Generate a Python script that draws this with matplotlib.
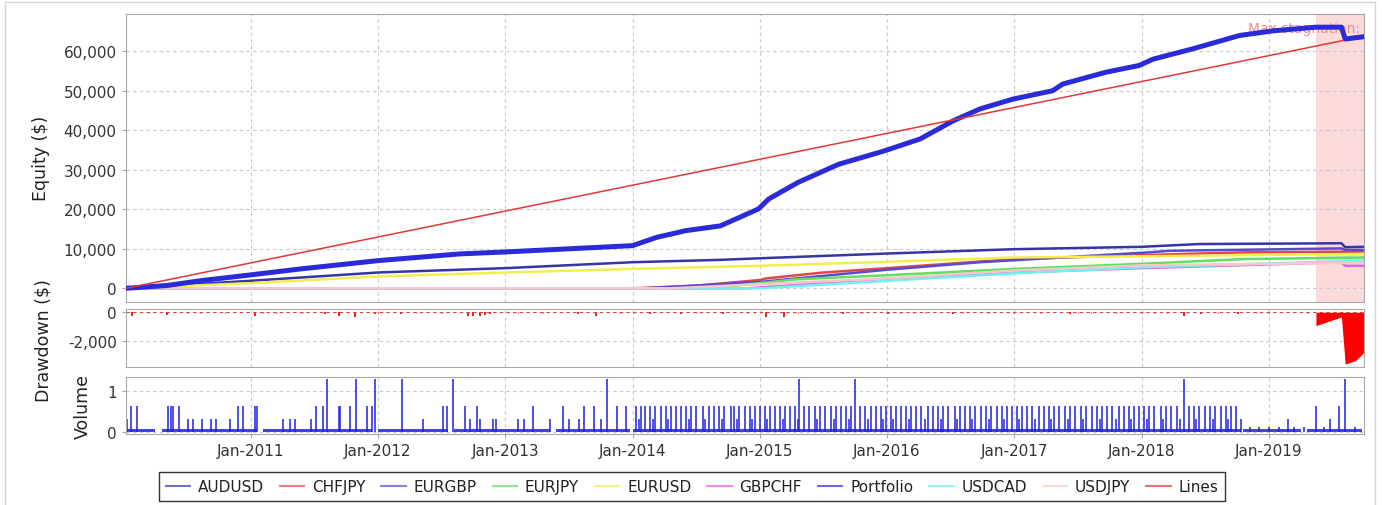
import numpy as np
import matplotlib
matplotlib.use("Agg")
import matplotlib.pyplot as plt
from matplotlib.patches import Rectangle

# --- data (x in decimal years) ---
years = [2011, 2012, 2013, 2014, 2015, 2016, 2017, 2018, 2019]
year_labels = ["Jan-%d" % y for y in years]

portfolio_t = [2010.02, 2010.34, 2010.60, 2011.00, 2011.39, 2012.00, 2012.64, 2013.00, 2014.00,
               2014.19, 2014.42, 2014.69, 2014.99, 2015.07, 2015.30, 2015.62, 2015.97, 2016.26,
               2016.52, 2016.73, 2016.99, 2017.30, 2017.38, 2017.72, 2017.98, 2018.09, 2018.40,
               2018.77, 2019.04, 2019.37, 2019.57, 2019.60, 2019.75]
portfolio_v = [0, 700, 1900, 3400, 4900, 7000, 8700, 9200, 10800,
               12900, 14600, 15800, 20100, 22600, 26800, 31400, 34700, 37800,
               42400, 45400, 47900, 50000, 51700, 54700, 56400, 58000, 60600,
               64000, 65200, 66100, 66100, 63100, 63700]

audusd_t = [2010.02, 2011.0, 2012.0, 2013.0, 2014.0, 2014.69, 2015.0, 2016.0, 2017.0, 2018.0, 2018.45, 2019.57, 2019.60, 2019.75]
audusd_v = [0, 1900, 4000, 5100, 6600, 7200, 7600, 8800, 9900, 10500, 11200, 11400, 10400, 10500]

eurusd_t = [2010.02, 2011.0, 2012.0, 2013.0, 2014.0, 2015.0, 2016.0, 2017.0, 2018.0, 2019.75]
eurusd_v = [0, 1300, 3000, 4000, 4900, 5700, 6700, 7800, 8100, 8700]

chfjpy_t = [2010.02, 2014.0, 2014.5, 2015.0, 2015.05, 2015.5, 2016.0, 2017.0, 2018.0, 2018.8, 2019.75]
chfjpy_v = [0, 0, 660, 2100, 2500, 4000, 5100, 7400, 8400, 9100, 9300]

eurgbp_t = [2010.02, 2014.1, 2015.0, 2016.0, 2016.73, 2018.06, 2018.22, 2019.57, 2019.60, 2019.75]
eurgbp_v = [0, 0, 1600, 4700, 6600, 9100, 9500, 10100, 9700, 9700]

eurjpy_t = [2010.02, 2014.5, 2014.8, 2015.3, 2016.0, 2017.0, 2018.0, 2018.8, 2019.75]
eurjpy_v = [0, 0, 660, 2300, 3300, 4900, 6200, 7400, 7800]

gbpchf_t = [2010.02, 2014.9, 2016.0, 2017.0, 2018.0, 2019.57, 2019.60, 2019.75]
gbpchf_v = [0, 0, 2400, 4000, 5100, 6600, 5700, 5700]

usdcad_t = [2010.02, 2015.0, 2016.0, 2017.0, 2018.0, 2019.75]
usdcad_v = [0, 0, 1900, 3800, 5300, 7000]

usdjpy_t = [2010.02, 2014.3, 2016.0, 2017.0, 2018.0, 2019.75]
usdjpy_v = [0, 0, 2500, 4500, 5800, 6500]

lines_t = [2010.02, 2019.58]
lines_v = [0, 62700]

stagnation_start = 2019.37

# drawdown: small dips + final drawdown
dip_t = [2010.07, 2010.34, 2011.03, 2011.58, 2011.69, 2011.82, 2011.98, 2012.18, 2012.71, 2012.75,
         2012.80, 2012.84, 2012.88, 2013.57, 2013.71, 2014.14, 2014.38, 2014.71, 2015.05, 2015.19,
         2015.65, 2016.01, 2016.52, 2017.44, 2018.33, 2018.47, 2018.76, 2019.20]
dip_v = [-250, -200, -250, -150, -250, -300, -150, -150, -250, -250,
         -250, -200, -150, -150, -250, -100, -150, -100, -350, -300,
         -150, -100, -100, -120, -250, -150, -150, -80]
tiny_dip_t = [2010.2, 2010.5, 2010.6, 2010.8, 2011.1, 2011.2, 2011.4, 2012.0, 2012.3, 2012.5,
              2013.1, 2013.3, 2013.9, 2014.0, 2014.5, 2014.9, 2015.3, 2015.4, 2015.5, 2015.8,
              2016.1, 2016.2, 2016.3, 2016.6, 2016.8, 2017.0, 2017.2, 2017.5, 2017.6, 2017.8,
              2018.0, 2018.1, 2018.2, 2018.6, 2018.9, 2019.0, 2019.3]
final_dd_t = [2019.37, 2019.57, 2019.60, 2019.68, 2019.75]
final_dd_v = [-940, -330, -3640, -3400, -2800]

# volume (lots): one list of dates per trade size
vol_levels = [1.3, 0.65, 0.33, 0.12]
vol_tall = [2011.60, 2011.83, 2011.98, 2012.19, 2012.59, 2013.80, 2015.31, 2015.75, 2018.33, 2019.60]
vol_mid = [2010.06, 2010.11, 2010.35, 2010.37, 2010.39, 2010.44, 2010.90, 2010.94,
           2011.03, 2011.05, 2011.51, 2011.57, 2011.69, 2011.70, 2011.78, 2011.91, 2011.95,
           2012.51, 2012.54, 2012.68, 2012.78,
           2013.22, 2013.45, 2013.62, 2013.70, 2013.88, 2013.95,
           2014.03, 2014.07, 2014.10, 2014.14, 2014.18, 2014.22, 2014.26, 2014.30, 2014.34, 2014.38,
           2014.42, 2014.46, 2014.50, 2014.55, 2014.60, 2014.64, 2014.68, 2014.72, 2014.77, 2014.80,
           2014.84, 2014.88, 2014.92, 2014.96,
           2015.00, 2015.04, 2015.08, 2015.12, 2015.16, 2015.20, 2015.24, 2015.28, 2015.35, 2015.39,
           2015.43, 2015.47, 2015.51, 2015.56, 2015.60, 2015.64, 2015.68, 2015.72, 2015.79, 2015.83,
           2015.87, 2015.91, 2015.95, 2015.99,
           2016.03, 2016.07, 2016.11, 2016.15, 2016.19, 2016.23, 2016.27, 2016.32, 2016.36, 2016.40,
           2016.44, 2016.48, 2016.53, 2016.57, 2016.61, 2016.65, 2016.69, 2016.74, 2016.78, 2016.82,
           2016.86, 2016.90, 2016.94, 2016.98,
           2017.02, 2017.06, 2017.10, 2017.14, 2017.19, 2017.23, 2017.27, 2017.31, 2017.35, 2017.40,
           2017.44, 2017.48, 2017.52, 2017.56, 2017.61, 2017.65, 2017.69, 2017.73, 2017.77, 2017.82,
           2017.86, 2017.90, 2017.94, 2017.98,
           2018.02, 2018.06, 2018.10, 2018.15, 2018.19, 2018.23, 2018.28, 2018.37, 2018.41, 2018.45,
           2018.50, 2018.54, 2018.58, 2018.62, 2018.66, 2018.70, 2018.74,
           2019.37, 2019.55]
vol_low = [2010.03, 2010.51, 2010.55, 2010.62, 2010.69, 2010.73, 2010.84,
           2011.25, 2011.31, 2011.35, 2011.47,
           2012.35, 2012.72, 2012.80, 2012.90, 2012.93,
           2013.10, 2013.15, 2013.35, 2013.50, 2013.58, 2013.75,
           2014.05, 2014.16, 2014.28, 2014.44, 2014.57, 2014.70, 2014.82, 2014.94,
           2015.06, 2015.18, 2015.30, 2015.45, 2015.58, 2015.70, 2015.85, 2015.97,
           2016.05, 2016.17, 2016.30, 2016.42, 2016.55, 2016.67, 2016.80, 2016.92,
           2017.04, 2017.16, 2017.29, 2017.42, 2017.54, 2017.67, 2017.80, 2017.92,
           2018.04, 2018.17, 2018.30, 2018.43, 2018.56, 2018.68, 2018.78,
           2019.15, 2019.48]
vol_small = [2018.85, 2018.92, 2019.00, 2019.08, 2019.20, 2019.28, 2019.43, 2019.68]
# continuous stretches of tiny trades (baseline band)
base_start = [2010.02, 2010.30, 2011.10, 2012.00, 2012.60, 2013.40, 2014.00, 2018.80, 2019.30]
base_end = [2010.25, 2011.05, 2011.95, 2012.55, 2013.35, 2013.98, 2018.78, 2019.25, 2019.73]
base_level = 0.07

# --- figure ---
fig = plt.figure(figsize=(13.82, 5.06), dpi=100)
plt.rcParams['font.family'] = ['DejaVu Sans']
fs = 11

x0, x1 = 2010.018, 2019.75
L, W = 0.0910, 0.8962
ax_eq = fig.add_axes([L, 0.4018, W, 0.5686])
ax_dd = fig.add_axes([L, 0.2721, W, 0.1153])
ax_vol = fig.add_axes([L, 0.1403, W, 0.1121])

for ax in (ax_eq, ax_dd, ax_vol):
    ax.set_xlim(x0, x1)
    ax.set_xticks(years)
    ax.grid(True, color='#c8c8c8', linestyle=(0, (3, 3)), linewidth=0.8)
    ax.set_axisbelow(True)
    for s in ax.spines.values():
        s.set_color('#a8a8a8')
    ax.tick_params(axis='both', colors='#a8a8a8', labelcolor='#333333', labelsize=fs,
                   length=3, direction='out')
ax_eq.tick_params(axis='x', labelbottom=False, length=0)
ax_dd.tick_params(axis='x', labelbottom=False, length=0)
ax_vol.set_xticklabels(year_labels)

# equity
ax_eq.axvspan(stagnation_start, x1, color='#fadada', zorder=0.5, lw=0)
ax_eq.text(2018.84, 66000, "Max stagnation:", color='#f08c8c', fontsize=10,
           va='center', ha='left', clip_on=True, zorder=1)
series = [
    ("AUDUSD", audusd_t, audusd_v, '#3535a8', 1.8),
    ("CHFJPY", chfjpy_t, chfjpy_v, '#e04848', 1.8),
    ("EURGBP", eurgbp_t, eurgbp_v, '#5a4ad0', 1.8),
    ("EURJPY", eurjpy_t, eurjpy_v, '#60e060', 1.8),
    ("EURUSD", eurusd_t, eurusd_v, '#f2ee50', 1.8),
    ("GBPCHF", gbpchf_t, gbpchf_v, '#e860e8', 1.8),
    ("USDCAD", usdcad_t, usdcad_v, '#70f0f0', 1.8),
    ("USDJPY", usdjpy_t, usdjpy_v, '#f8c8c8', 1.8),
]
handles = {}
for name, t, v, c, lw in series:
    handles[name], = ax_eq.plot(t, v, color=c, lw=lw, zorder=2)
handles["Portfolio"], = ax_eq.plot(portfolio_t, portfolio_v, color='#2a2ad8', lw=3.6, zorder=3)
handles["Lines"], = ax_eq.plot(lines_t, lines_v, color='#e03838', lw=1.1, zorder=4)
ax_eq.set_ylim(-3390, 69440)
ax_eq.set_yticks(range(0, 60001, 10000))
ax_eq.set_yticklabels(["{:,}".format(v) for v in range(0, 60001, 10000)])
ax_eq.set_ylabel("Equity ($)", fontsize=12.5, color='#222222')
ax_eq.yaxis.set_label_coords(-0.061, 0.5)

# drawdown
ax_dd.vlines(dip_t, dip_v, 0, color='#e02020', lw=1.4)
ax_dd.vlines(tiny_dip_t, -60, 0, color='#e02020', lw=1.0)
ax_dd.axhline(0, color='#e04040', lw=0.8, linestyle=(0, (3, 3)))
ax_dd.fill_between(final_dd_t, final_dd_v, 0, color='#ff0000', lw=0)
ax_dd.set_ylim(-3870, 230)
ax_dd.set_yticks([0, -2000])
ax_dd.set_yticklabels(["0", "-2,000"])
ax_dd.set_ylabel("Drawdown ($)", fontsize=12.5, color='#222222')
ax_dd.yaxis.set_label_coords(-0.059, 0.48)

# volume
for s0, s1 in zip(base_start, base_end):
    ax_vol.fill_between([s0, s1], 0, base_level, color='#2020e0', lw=0, alpha=0.85)
for lvl, dates in zip(vol_levels, [vol_tall, vol_mid, vol_low, vol_small]):
    ax_vol.vlines(dates, 0, lvl, color='#2020e0', lw=1.1)
ax_vol.set_ylim(-0.04, 1.34)
ax_vol.set_yticks([0, 1])
ax_vol.set_ylabel("Volume", fontsize=12.5, color='#222222')
ax_vol.yaxis.set_label_coords(-0.027, 0.5)

# legend
order = ["AUDUSD", "CHFJPY", "EURGBP", "EURJPY", "EURUSD", "GBPCHF", "Portfolio", "USDCAD", "USDJPY", "Lines"]
leg = fig.legend([handles[n] for n in order], order, loc='center', bbox_to_anchor=(0.5007, 0.0366),
                 ncol=10, fontsize=fs, frameon=True, fancybox=False, handlelength=1.6,
                 handletextpad=0.5, columnspacing=1.05, borderpad=0.45)
leg.get_frame().set_edgecolor('black')
leg.get_frame().set_linewidth(1.0)
for h in leg.legend_handles:
    h.set_linewidth(1.5)
    h.set_alpha(0.7)
for txt in leg.get_texts():
    txt.set_color('#222222')

# outer frame
fig.patches.append(Rectangle((5 / 1382, -0.01), 1370 / 1382, 1.0 - 3 / 506 + 0.01, transform=fig.transFigure,
                             fill=False, edgecolor='#d4d4d4', lw=1.0))

fig.savefig("out.png", dpi=100)
